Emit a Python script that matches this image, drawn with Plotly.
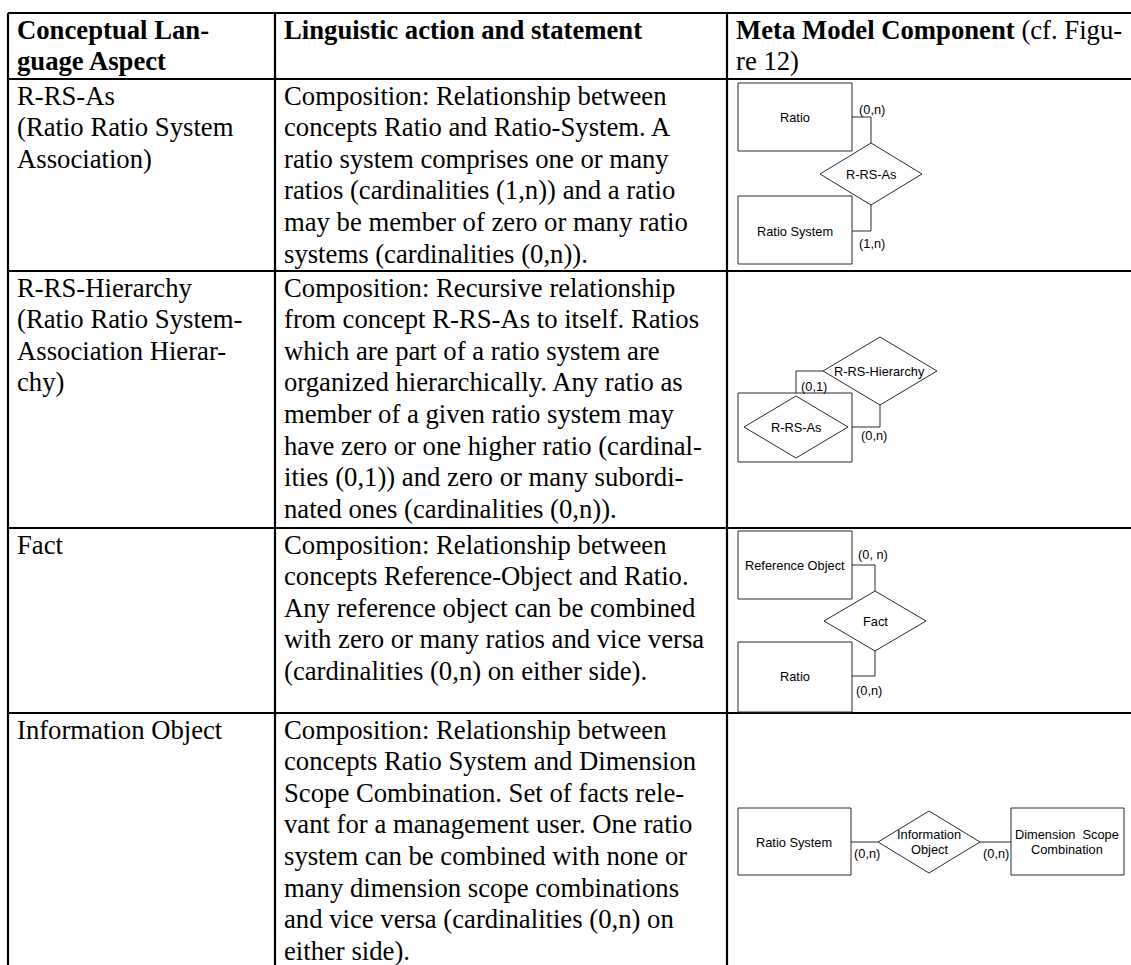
import plotly.graph_objects as go

# ---------------- data (table content) ----------------
header_col1 = ["Conceptual Lan-", "guage Aspect"]
header_col2 = ["Linguistic action and statement"]
header_col3_bold = "Meta Model Component"
header_col3 = [" (cf. Figu-", "re 12)"]

aspects = [
    ["R-RS-As", "(Ratio Ratio System", "Association)"],
    ["R-RS-Hierarchy", "(Ratio Ratio System-", "Association Hierar-", "chy)"],
    ["Fact"],
    ["Information Object"],
]

statements = [
    ["Composition: Relationship between",
     "concepts Ratio and Ratio-System. A",
     "ratio system comprises one or many",
     "ratios (cardinalities (1,n)) and a ratio",
     "may be member of zero or many ratio",
     "systems (cardinalities (0,n))."],
    ["Composition: Recursive relationship",
     "from concept R-RS-As to itself. Ratios",
     "which are part of a ratio system are",
     "organized hierarchically. Any ratio as",
     "member of a given ratio system may",
     "have zero or one higher ratio (cardinal-",
     "ities (0,1)) and zero or many subordi-",
     "nated ones (cardinalities (0,n))."],
    ["Composition: Relationship between",
     "concepts Reference-Object and Ratio.",
     "Any reference object can be combined",
     "with zero or many ratios and vice versa",
     "(cardinalities (0,n) on either side)."],
    ["Composition: Relationship between",
     "concepts Ratio System and Dimension",
     "Scope Combination. Set of facts rele-",
     "vant for a management user. One ratio",
     "system can be combined with none or",
     "many dimension scope combinations",
     "and vice versa (cardinalities (0,n) on",
     "either side)."],
]

# diagram labels
d1_entities = ["Ratio", "Ratio System"]
d1_relation = "R-RS-As"
d1_cards = ["(0,n)", "(1,n)"]

d2_inner_relation = "R-RS-As"
d2_relation = "R-RS-Hierarchy"
d2_cards = ["(0,1)", "(0,n)"]

d3_entities = ["Reference Object", "Ratio"]
d3_relation = "Fact"
d3_cards = ["(0, n)", "(0,n)"]

d4_entities = [["Ratio System"], ["Dimension\u00a0 Scope", "Combination"]]
d4_relation = ["Information", "Object"]
d4_cards = ["(0,n)", "(0,n)"]

# ---------------- layout geometry (pixels) ----------------
W, H = 1131, 965
col_x = [8, 275, 727]
row_y = [13, 79, 271, 528, 713]
LINE_H = 31.6
PAD_X = 8
FIRST_CENTER = 16.5
FONT_PX = 26.7
SERIF = "Liberation Serif, Times New Roman, serif"
SANS = "Liberation Sans, Arial, sans-serif"
DFONT = 12.8

fig = go.Figure()
annotations = []


def text_at(x, y, s, size=FONT_PX, family=SERIF, anchor="left"):
    annotations.append(dict(
        x=x, y=y, xref="x", yref="y", text=s, showarrow=False,
        xanchor=anchor, yanchor="middle", borderpad=0,
        font=dict(family=family, size=size, color="black")))


def cell_lines(col, row_top, lines, bold=False, first_prefix=None):
    for k, ln in enumerate(lines):
        y = row_top + FIRST_CENTER + k * LINE_H
        s = "<b>" + ln + "</b>" if bold else ln
        if k == 0 and first_prefix is not None:
            s = first_prefix + s
        text_at(col_x[col] + PAD_X, y, s)


# header
cell_lines(0, row_y[0], header_col1, bold=True)
cell_lines(1, row_y[0], header_col2, bold=True)
cell_lines(2, row_y[0], header_col3, first_prefix="<b>" + header_col3_bold + "</b>")

# body
for i in range(4):
    cell_lines(0, row_y[i + 1], aspects[i])
    cell_lines(1, row_y[i + 1], statements[i])

# table grid lines
gx, gy = [], []
for y in row_y:
    gx += [col_x[0], W + 5, None]
    gy += [y, y, None]
for x in col_x:
    gx += [x, x, None]
    gy += [row_y[0], H + 5, None]
fig.add_trace(go.Scatter(x=gx, y=gy, mode="lines", hoverinfo="skip",
                         line=dict(color="black", width=2.2), showlegend=False))

# diagram helpers
dx, dy = [], []


def poly(pts, closed=True):
    for p in pts:
        dx.append(p[0]); dy.append(p[1])
    if closed:
        dx.append(pts[0][0]); dy.append(pts[0][1])
    dx.append(None); dy.append(None)


def rect(x0, y0, x1, y1):
    poly([(x0, y0), (x1, y0), (x1, y1), (x0, y1)])


def diamond(cx, cy, hw, hh):
    poly([(cx, cy - hh), (cx + hw, cy), (cx, cy + hh), (cx - hw, cy)])


# --- diagram 1 ---
rect(738, 83, 852, 151)
rect(738, 196, 852, 264)
diamond(871, 174, 51, 31)
poly([(852, 117), (871, 117), (871, 143)], closed=False)
poly([(871, 204), (871, 231), (852, 231)], closed=False)
text_at(795, 117, d1_entities[0], DFONT, SANS, "center")
text_at(795, 231, d1_entities[1], DFONT, SANS, "center")
text_at(871, 174, d1_relation, DFONT, SANS, "center")
text_at(858, 109, d1_cards[0], DFONT, SANS)
text_at(858, 243, d1_cards[1], DFONT, SANS)

# --- diagram 2 ---
rect(738, 393, 852, 462)
diamond(796, 427, 52, 31)
diamond(880, 371, 57, 34)
poly([(796, 393), (796, 371), (823, 371)], closed=False)
poly([(880, 405), (880, 427), (852, 427)], closed=False)
text_at(796, 427, d2_inner_relation, DFONT, SANS, "center")
text_at(879, 371, d2_relation, DFONT, SANS, "center")
text_at(800, 386, d2_cards[0], DFONT, SANS)
text_at(860, 435, d2_cards[1], DFONT, SANS)

# --- diagram 3 ---
rect(738, 531, 852, 599)
rect(738, 642, 852, 712)
diamond(875, 621, 51, 30)
poly([(852, 565), (875, 565), (875, 591)], closed=False)
poly([(875, 651), (875, 676), (852, 676)], closed=False)
text_at(795, 565, d3_entities[0], DFONT, SANS, "center")
text_at(795, 676, d3_entities[1], DFONT, SANS, "center")
text_at(875, 621, d3_relation, DFONT, SANS, "center")
text_at(857, 554, d3_cards[0], DFONT, SANS)
text_at(855, 690, d3_cards[1], DFONT, SANS)

# --- diagram 4 ---
rect(738, 808, 851, 875)
rect(1011, 808, 1124, 875)
diamond(929, 842, 51, 31)
poly([(851, 842), (878, 842)], closed=False)
poly([(980, 842), (1011, 842)], closed=False)
text_at(794, 842, d4_entities[0][0], DFONT, SANS, "center")
text_at(1067, 834, d4_entities[1][0], DFONT, SANS, "center")
text_at(1067, 849, d4_entities[1][1], DFONT, SANS, "center")
text_at(929, 834, d4_relation[0], DFONT, SANS, "center")
text_at(929, 849, d4_relation[1], DFONT, SANS, "center")
text_at(853, 853, d4_cards[0], DFONT, SANS)
text_at(982, 853, d4_cards[1], DFONT, SANS)

fig.add_trace(go.Scatter(x=dx, y=dy, mode="lines", hoverinfo="skip",
                         line=dict(color="#2a2a2a", width=1), showlegend=False))

fig.update_layout(
    width=W, height=H, margin=dict(l=0, r=0, t=0, b=0),
    paper_bgcolor="white", plot_bgcolor="white",
    xaxis=dict(range=[0, W], visible=False, fixedrange=True),
    yaxis=dict(range=[H, 0], visible=False, fixedrange=True),
    annotations=annotations, showlegend=False,
)

fig.write_html(
    "out.html",
    config={"displayModeBar": False},
    post_script="document.body.style.margin='0';"
                "document.documentElement.style.overflow='hidden';",
)
